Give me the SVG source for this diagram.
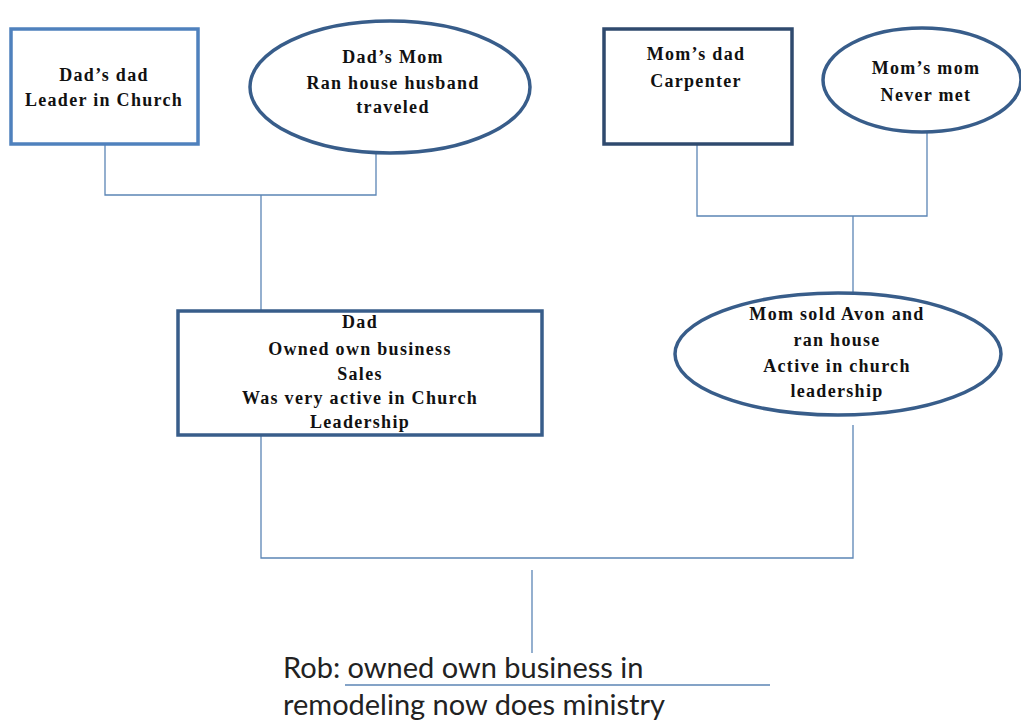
<svg xmlns="http://www.w3.org/2000/svg" width="1021" height="722" viewBox="0 0 1021 722">
<style>
.bg{fill:#ffffff}
.box{fill:#ffffff;stroke:#385d8a;stroke-width:3.5}
.light{stroke:#4f81bd}
.t{font-family:"Liberation Serif","Times New Roman",serif;font-weight:bold;font-size:18px;fill:#111;text-anchor:middle;letter-spacing:1.3px}
.c{fill:none;stroke:#5b85b5;stroke-width:1.3}
.rob{font-family:Lato,"Open Sans","Liberation Sans",sans-serif;font-size:29px;fill:#222}
</style>
<rect class="bg" x="0" y="0" width="1021" height="722"/>
<g id="connectors">
<polyline class="c" points="105,144 105,195 376,195 376,123"/>
<line class="c" x1="261" y1="195" x2="261" y2="320"/>
<polyline class="c" points="697,144 697,216 927,216 927,133"/>
<line class="c" x1="853" y1="216" x2="853" y2="322"/>
<polyline class="c" points="261,436 261,558 853,558 853,425"/>
<line class="c" x1="532" y1="570" x2="532" y2="653"/>
<line class="c" x1="345" y1="685" x2="770" y2="685"/>
</g>
<g id="dads-dad">
<rect class="box light" x="11" y="29" width="187" height="115"/>
<text class="t" x="104" y="81">Dad’s dad</text>
<text class="t" x="104" y="106">Leader in Church</text>
</g>
<g id="dads-mom">
<ellipse class="box" cx="390" cy="87" rx="140" ry="66"/>
<text class="t" x="393" y="63">Dad’s Mom</text>
<text class="t" x="393" y="89">Ran house husband</text>
<text class="t" x="393" y="113">traveled</text>
</g>
<g id="moms-dad">
<rect class="box" x="604" y="29" width="188" height="115" style="stroke:#2f4a6e"/>
<text class="t" x="696" y="60">Mom’s dad</text>
<text class="t" x="696" y="87">Carpenter</text>
</g>
<g id="moms-mom">
<ellipse class="box" cx="922" cy="80" rx="99" ry="52"/>
<text class="t" x="926" y="74">Mom’s mom</text>
<text class="t" x="926" y="101">Never met</text>
</g>
<g id="dad">
<rect class="box" x="178" y="311" width="364" height="124"/>
<text class="t" x="360" y="328">Dad</text>
<text class="t" x="360" y="355">Owned own business</text>
<text class="t" x="360" y="380">Sales</text>
<text class="t" x="360" y="404">Was very active in Church</text>
<text class="t" x="360" y="428">Leadership</text>
</g>
<g id="mom">
<ellipse class="box" cx="838" cy="354" rx="163" ry="61"/>
<text class="t" x="837" y="320">Mom sold Avon and</text>
<text class="t" x="837" y="346">ran house</text>
<text class="t" x="837" y="372">Active in church</text>
<text class="t" x="837" y="397">leadership</text>
</g>
<g id="rob">
<text class="rob" x="283" y="678">Rob: owned own business in</text>
<text class="rob" x="283" y="715">remodeling now does ministry</text>
</g>
</svg>
